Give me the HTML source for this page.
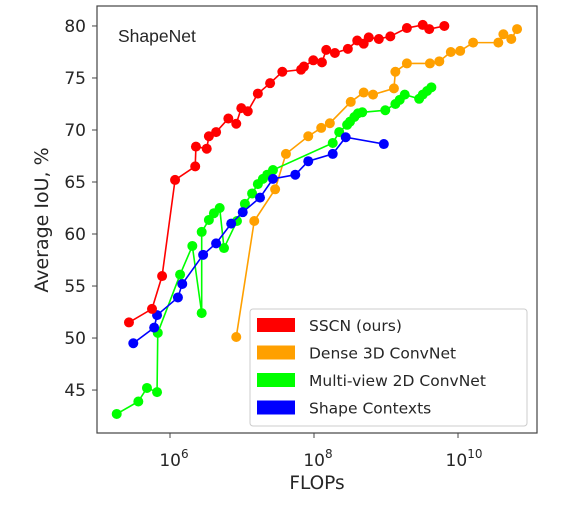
<!DOCTYPE html>
<html><head><meta charset="utf-8"><style>
html,body{margin:0;padding:0;background:#fff;}
svg text{font-family:"DejaVu Sans","Liberation Sans",sans-serif;fill:#262626;}
</style></head><body>
<svg id="chart" width="566" height="500" xmlns="http://www.w3.org/2000/svg">
<g id="marks"></g>
</svg>
<script>
// Data: x values are log10(FLOPs), y values are Average IoU (%)
const sscnLogFlops=[5.43,5.75,5.89,6.07,6.35,6.36,6.51,6.54,6.64,6.81,6.92,6.99,7.08,7.22,7.39,7.56,7.82,7.86,7.99,8.11,8.17,8.29,8.47,8.60,8.69,8.76,8.90,9.06,9.29,9.51,9.60,9.81];
const sscnIoU=[51.5,52.8,55.96,65.2,66.5,68.4,68.2,69.4,69.8,71.1,70.6,72.1,71.8,73.5,74.5,75.6,75.8,76.1,76.7,76.5,77.7,77.4,77.8,78.6,78.3,78.9,78.75,79.0,79.8,80.1,79.7,80.0];
const denseLogFlops=[6.92,7.17,7.46,7.61,7.92,8.10,8.22,8.51,8.69,8.82,9.11,9.13,9.29,9.61,9.74,9.90,10.03,10.21,10.56,10.63,10.74,10.82];
const denseIoU=[50.1,61.25,64.3,67.7,69.4,70.2,70.65,72.7,73.6,73.4,74.0,75.6,76.4,76.4,76.6,77.5,77.6,78.4,78.4,79.2,78.75,79.7];
const mvLogFlops=[5.26,5.56,5.68,5.82,5.83,6.14,6.31,6.44,6.44,6.54,6.61,6.69,6.75,6.93,7.04,7.14,7.22,7.29,7.35,7.43,8.26,8.35,8.46,8.50,8.56,8.61,8.67,8.99,9.13,9.19,9.26,9.46,9.51,9.57,9.63];
const mvIoU=[42.7,43.9,45.2,44.8,50.5,56.1,58.85,52.4,60.2,61.35,62.0,62.5,58.65,61.25,62.9,63.9,64.8,65.3,65.7,66.15,68.75,69.8,70.5,70.8,71.25,71.6,71.7,71.9,72.5,72.9,73.4,73.0,73.4,73.75,74.1];
const scLogFlops=[5.49,5.78,5.82,6.11,6.17,6.46,6.64,6.85,7.01,7.25,7.43,7.74,7.92,8.26,8.44,8.97];
const scIoU=[49.5,51.0,52.2,53.9,55.2,58.0,59.1,61.0,62.1,63.5,65.3,65.7,67.0,67.7,69.3,68.65];
const yTicks=[45,50,55,60,65,70,75,80];
const xTickExps=[6,8,10];
const seriesNames=["SSCN (ours)","Dense 3D ConvNet","Multi-view 2D ConvNet","Shape Contexts"];
const seriesColors=["#ff0000","#ffa000","#00ff00","#0000ff"];

const L=97,R=537,T=6,B=433;
const xMin=4.986,xMax=11.097,yMin=40.87,yMax=81.92;
const sx=v=>L+(v-xMin)/(xMax-xMin)*(R-L);
const sy=v=>B-(v-yMin)/(yMax-yMin)*(B-T);
const NS="http://www.w3.org/2000/svg";
const svg=document.getElementById('chart');
const g=document.getElementById('marks');
function mk(tag,attrs,parent){const e=document.createElementNS(NS,tag);for(const k in attrs)e.setAttribute(k,attrs[k]);(parent||g).appendChild(e);return e;}

let fr=mk('rect',{x:L,y:T,width:R-L,height:B-T,fill:'none',stroke:'#444','stroke-width':1.2});



yTicks.forEach(v=>{
  const y=sy(v);
  const t=mk('line',{x1:L-5,x2:L,y1:y,y2:y,stroke:'#444','stroke-width':1});
  
  
  const lb=mk('text',{x:L-11,y:y+6,'text-anchor':'end','font-size':17});
  lb.textContent=v;
  
  
});
xTickExps.forEach(e=>{
  const x=sx(e);
  const t=mk('line',{x1:x,x2:x,y1:B,y2:B+5,stroke:'#444','stroke-width':1});
  
  
  const lb=mk('text',{x:x+(e>=10?6:4),y:466,'text-anchor':'middle','font-size':17});
  lb.innerHTML='10<tspan dy="-8" font-size="12">'+e+'</tspan>';
  
  
});
let xt=mk('text',{x:317,y:489,'text-anchor':'middle','font-size':18.5});
xt.textContent='FLOPs';


let yt=mk('text',{x:0,y:0,'text-anchor':'middle','font-size':19,transform:'translate(48,220) rotate(-90)'});
yt.textContent='Average IoU, %';


let st=mk('text',{x:118,y:42,'font-size':17.5,style:'font-family:"Liberation Sans",sans-serif'});
st.textContent='ShapeNet';



const allX=[sscnLogFlops,denseLogFlops,mvLogFlops,scLogFlops];
const allY=[sscnIoU,denseIoU,mvIoU,scIoU];
const order=[1,2,3,0];
order.forEach(i=>{
  const sg=mk('g',{});
  
  
  const pts=allX[i].map((v,j)=>sx(v)+','+sy(allY[i][j])).join(' ');
  const pl=mk('polyline',{points:pts,fill:'none',stroke:seriesColors[i],'stroke-width':1.6},sg);
  
  
  allX[i].forEach((v,j)=>{
    const c=mk('circle',{cx:sx(v),cy:sy(allY[i][j]),r:5,fill:seriesColors[i]},sg);
    
    
  });
});

const lg=mk('g',{});


const lbx=mk('rect',{x:250,y:309,width:277,height:117,rx:3,fill:'#fff','fill-opacity':0.85,stroke:'#ccc','stroke-width':1},lg);


seriesNames.forEach((n,i)=>{
  const cy=325+i*27.5;
  const e=mk('g',{},lg);
  
  
  const p=mk('rect',{x:257,y:cy-7,width:38,height:14,fill:seriesColors[i]},e);
  
  
  const t=mk('text',{x:309,y:cy+6,'font-size':15.5},e);
  t.textContent=n;
  
  
});
</script>
</body></html>
